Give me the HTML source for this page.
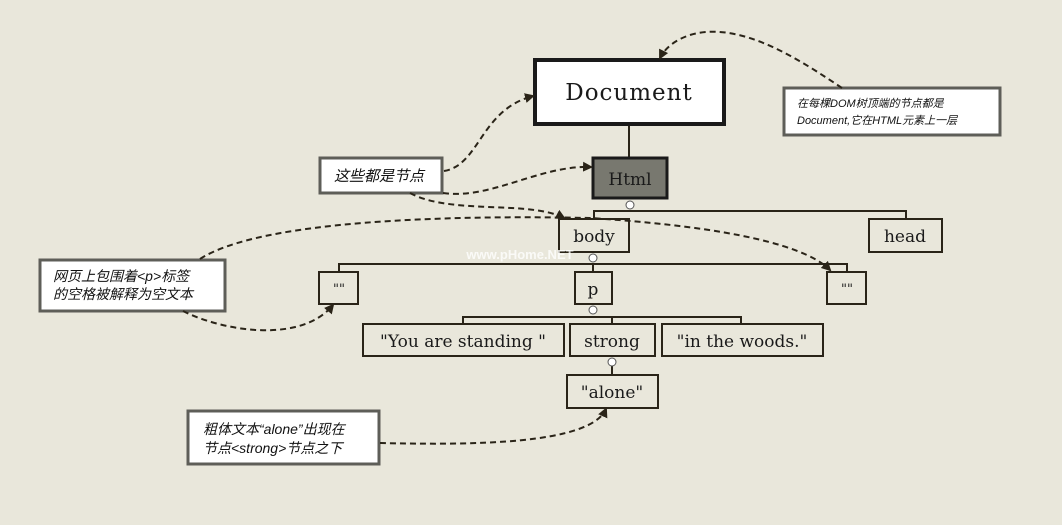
<!DOCTYPE html>
<html><head><meta charset="utf-8"><style>
html,body{margin:0;padding:0;background:#e9e7db;}
svg{display:block}
.n{fill:none;stroke:#2a2418;stroke-width:2}
.t{font-family:"DejaVu Serif",serif;fill:#1a1a1a;text-anchor:middle}
.note{fill:#fff;stroke:#5e5e58;stroke-width:3}
.nt{font-family:"Liberation Sans","Noto Sans CJK SC",sans-serif;font-style:italic;fill:#111}
.d{fill:none;stroke:#2a2418;stroke-width:2;stroke-dasharray:6,4}
.l{fill:none;stroke:#2a2418;stroke-width:2}
</style></head><body>
<svg width="1062" height="525" viewBox="0 0 1062 525">
<defs><marker id="a" markerWidth="10" markerHeight="10" refX="8" refY="5" orient="auto" markerUnits="userSpaceOnUse"><path d="M0,0 L10,5 L0,10 z" fill="#2a2418"/></marker></defs>
<line class="l" x1="629" y1="125" x2="629" y2="157"/>
<path class="l" d="M594,219 V211 H906 V219"/>
<path class="l" d="M339,272 V264 H847 V272 M593,264 V272"/>
<path class="l" d="M463,324 V317 H741 V324 M612,317 V324"/>
<line class="l" x1="612" y1="366" x2="612" y2="375"/>
<circle cx="630" cy="205" r="4" fill="#fff" stroke="#555" stroke-width="1"/>
<circle cx="593" cy="258" r="4" fill="#fff" stroke="#555" stroke-width="1"/>
<circle cx="593" cy="310" r="4" fill="#fff" stroke="#555" stroke-width="1"/>
<circle cx="612" cy="362" r="4" fill="#fff" stroke="#555" stroke-width="1"/>
<rect x="535" y="60" width="189" height="64" fill="#fff" stroke="#1a1a1a" stroke-width="4"/>
<text class="t" x="629" y="100" font-size="23" fill="#2a3040" letter-spacing="1">Document</text>
<rect x="593" y="158" width="74" height="40" fill="#78786f" stroke="#1a1a1a" stroke-width="3"/>
<text class="t" x="630" y="185" font-size="17">Html</text>
<rect class="n" x="559" y="219" width="70" height="33"/><text class="t" x="594" y="242" font-size="17">body</text>
<rect class="n" x="869" y="219" width="73" height="33"/><text class="t" x="905" y="242" font-size="17">head</text>
<rect class="n" x="319" y="272" width="39" height="32"/><text class="t" x="339" y="293" font-size="13">""</text>
<rect class="n" x="575" y="272" width="37" height="32"/><text class="t" x="593" y="295" font-size="17">p</text>
<rect class="n" x="827" y="272" width="39" height="32"/><text class="t" x="847" y="293" font-size="13">""</text>
<rect class="n" x="363" y="324" width="201" height="32"/><text class="t" x="463" y="347" font-size="17">"You are standing "</text>
<rect class="n" x="570" y="324" width="85" height="32"/><text class="t" x="612" y="347" font-size="17">strong</text>
<rect class="n" x="662" y="324" width="161" height="32"/><text class="t" x="742" y="347" font-size="17">"in the woods."</text>
<rect class="n" x="567" y="375" width="91" height="33"/><text class="t" x="612" y="398" font-size="17">"alone"</text>
<rect class="note" x="784" y="88" width="216" height="47"/>
<text class="nt" x="797" y="107" font-size="11">在每棵DOM树顶端的节点都是</text>
<text class="nt" x="797" y="124" font-size="11">Document,它在HTML元素上一层</text>
<rect class="note" x="320" y="158" width="122" height="35"/>
<text class="nt" x="334" y="181" font-size="15">这些都是节点</text>
<rect class="note" x="40" y="260" width="185" height="51"/>
<text class="nt" x="53" y="281" font-size="14">网页上包围着&lt;p&gt;标签</text>
<text class="nt" x="53" y="299" font-size="14">的空格被解释为空文本</text>
<rect class="note" x="188" y="411" width="191" height="53"/>
<text class="nt" x="203" y="434" font-size="14">粗体文本“alone”出现在</text>
<text class="nt" x="203" y="453" font-size="14">节点&lt;strong&gt;节点之下</text>
<path class="d" marker-end="url(#a)" d="M842,88 C800,60 740,20 690,35 C675,40 665,48 660,58"/>
<path class="d" marker-end="url(#a)" d="M444,171 C480,165 480,110 533,96"/>
<path class="d" marker-end="url(#a)" d="M443,193 C490,200 540,165 591,167"/>
<path class="d" marker-end="url(#a)" d="M410,193 C450,215 530,200 564,218"/>
<path class="d" marker-end="url(#a)" d="M200,259 C260,220 450,215 590,218 C700,225 800,240 830,270"/>
<path class="d" marker-end="url(#a)" d="M183,311 C220,330 300,345 333,305"/>
<path class="d" marker-end="url(#a)" d="M380,443 C470,445 590,445 606,409"/>
<text x="520" y="259" font-family="Liberation Sans,sans-serif" font-weight="bold" font-size="13" fill="#fff" opacity="0.8" text-anchor="middle">www.pHome.NET</text>
</svg>
</body></html>
